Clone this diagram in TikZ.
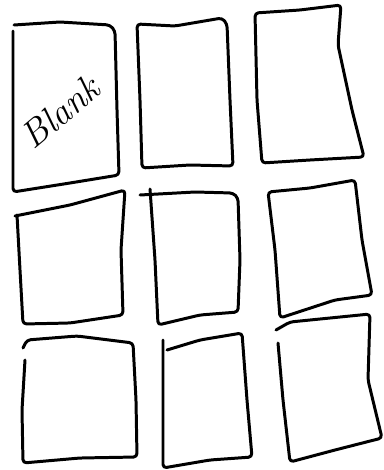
\documentclass[tikz,border=0pt]{standalone}
\usepackage{tikz}
\tikzset{
  sheet/.style={draw=black, line width=1.7pt, line join=round, line cap=round,
                rounded corners=2pt},
  scrawl/.style={font=\fontsize{21}{24}\selectfont\itshape, rotate=40}
}
\begin{document}
\begin{tikzpicture}[x=0.02cm, y=-0.02cm]
\useasboundingbox (0,0) rectangle (383,470);

% --- Row 1 ---
\draw[sheet] (14,25) -- (60,22) -- (110,25) -- (115,31) -- (117,110) -- (119,175)
  -- (70,183) -- (13,192) -- (13,100) -- (13,31);
\node[scrawl] (blank) at (60,112) {Blank};
\draw[sheet] (137,24) -- (175,26) -- (222,18) -- (227,24) -- (230,100) -- (233,166)
  -- (190,165) -- (142,168) -- (140,100) -- cycle;
\draw[sheet] (255,13) -- (300,10) -- (341,5) -- (338,45) -- (352,110) -- (364,157)
  -- (310,160) -- (262,163) -- (257,100) -- cycle;

% --- Row 2 ---
\draw[sheet] (15,216) -- (70,205) -- (125,190) -- (121,250) -- (123,315)
  -- (70,323) -- (23,324) -- (20,270) -- (17,215);
\draw[sheet] (140,195) -- (195,192) -- (233,193) -- (238,198) -- (240,260) -- (238,312)
  -- (200,315) -- (158,325) -- (155,260) -- (150,189);
\draw[sheet] (268,192) -- (310,188) -- (355,180) -- (362,240) -- (372,295)
  -- (335,300) -- (280,318) -- (275,250) -- cycle;

% --- Row 3 ---
\draw[sheet] (23,348) -- (27,340) -- (77,336) -- (133,343) -- (136,400) -- (137,457)
  -- (80,458) -- (23,463) -- (22,410) -- (25,360);
\draw[sheet] (163,340) -- (163,468) -- (210,460) -- (252,457) -- (247,400) -- (242,333)
  -- (200,340) -- (167,350);
\draw[sheet] (276,330) -- (290,322) -- (330,318) -- (370,314) -- (368,380) -- (382,438)
  -- (335,450) -- (290,462) -- (283,400) -- (278,343);

\end{tikzpicture}
\end{document}
